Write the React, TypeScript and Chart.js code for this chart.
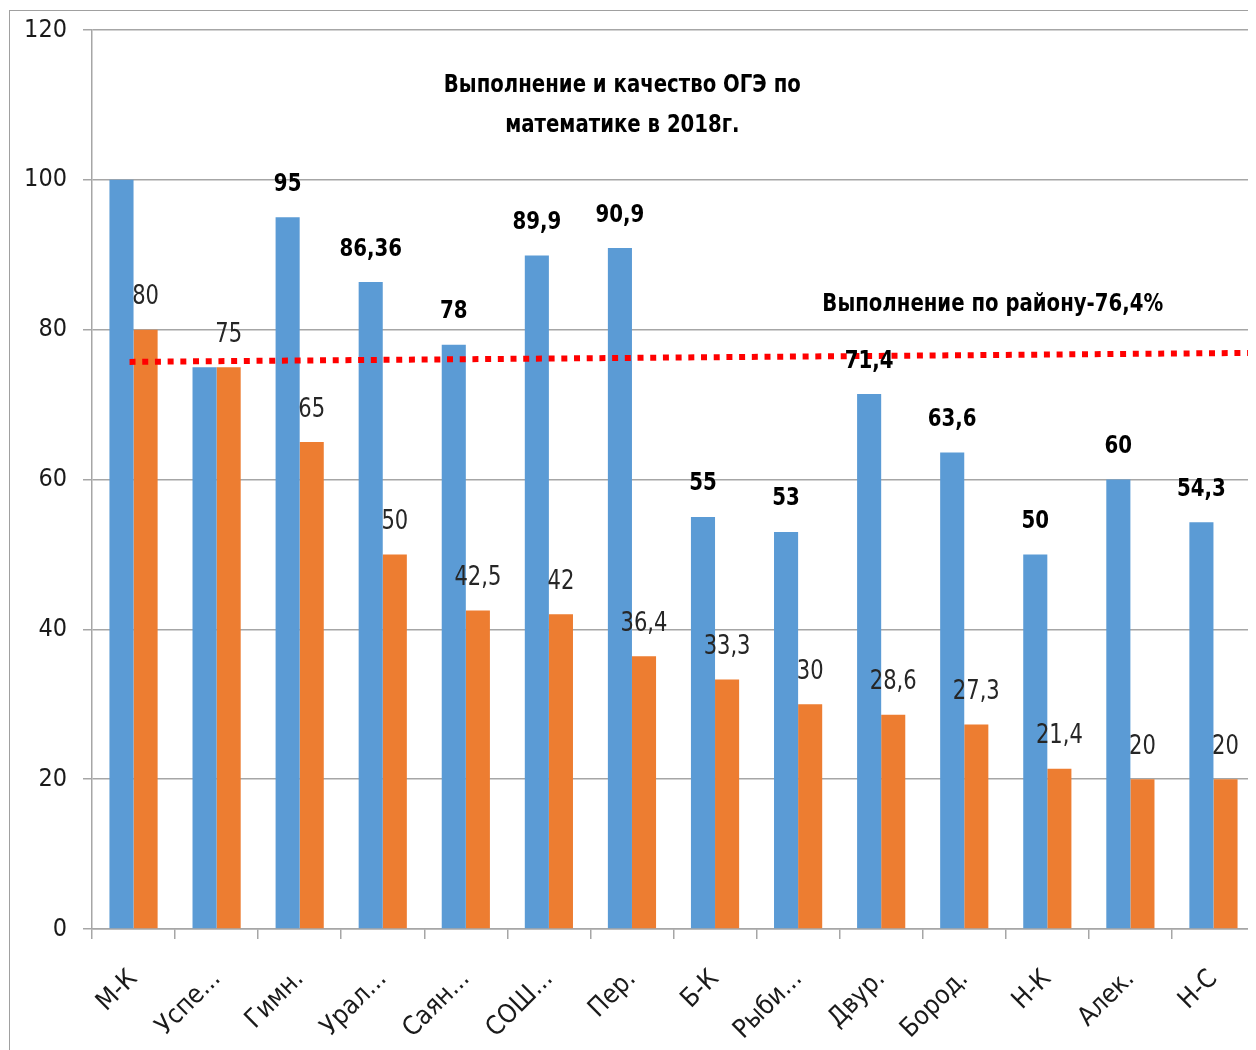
import React, { useEffect, useRef } from "react";
import { Chart, registerables } from "chart.js";

Chart.register(...registerables);

const categories = ["М-К", "Успе...", "Гимн.", "Урал...", "Саян...", "СОШ...", "Пер.", "Б-К", "Рыби...", "Двур.", "Бород.", "Н-К", "Алек.", "Н-С"];
const performance = [100, 75, 95, 86.36, 78, 89.9, 90.9, 55, 53, 71.4, 63.6, 50, 60, 54.3];
const quality = [80, 75, 65, 50, 42.5, 42, 36.4, 33.3, 30, 28.6, 27.3, 21.4, 20, 20];
const performanceLabels = ["", "", "95", "86,36", "78", "89,9", "90,9", "55", "53", "71,4", "63,6", "50", "60", "54,3"];
const qualityLabels = ["80", "75", "65", "50", "42,5", "42", "36,4", "33,3", "30", "28,6", "27,3", "21,4", "20", "20"];
const yTicks = [0, 20, 40, 60, 80, 100, 120];
const districtLineStart = 75.7;
const districtLineEnd = 76.9;
const titleLines = ["Выполнение и качество ОГЭ по", "математике в 2018г."];
const districtText = "Выполнение по району-76,4%";

const FONT = "'DejaVu Sans Condensed', 'Liberation Sans', sans-serif";

function drawText(ctx: any, text: string, x: number, y: number, scaleX: number, align: string) {
  ctx.save();
  ctx.translate(x, y);
  ctx.scale(scaleX, 1);
  ctx.textAlign = align;
  ctx.fillText(text, 0, 0);
  ctx.restore();
}

const overlayPlugin = {
  id: "overlay",
  afterDatasetsDraw(chart: any) {
    const { ctx, chartArea, scales } = chart;
    const x = scales.x;
    const y = scales.y;
    ctx.save();
    // district line
    ctx.strokeStyle = "#FF0000";
    ctx.lineWidth = 6;
    ctx.setLineDash([6, 6.7]);
    ctx.beginPath();
    ctx.moveTo(x.getPixelForValue(0) - 4, y.getPixelForValue(districtLineStart));
    ctx.lineTo(chartArea.right, y.getPixelForValue(districtLineEnd));
    ctx.stroke();
    ctx.setLineDash([]);

    // data labels
    ctx.textBaseline = "middle";
    const m0 = chart.getDatasetMeta(0);
    const m1 = chart.getDatasetMeta(1);
    ctx.fillStyle = "#000";
    ctx.font = `bold 25px ${FONT}`;
    m0.data.forEach((bar: any, i: number) => {
      if (performanceLabels[i]) drawText(ctx, performanceLabels[i], bar.x, bar.y - 33, 0.88, "center");
    });
    ctx.fillStyle = "#262626";
    ctx.font = `26px ${FONT}`;
    m1.data.forEach((bar: any, i: number) => {
      if (qualityLabels[i]) drawText(ctx, qualityLabels[i], bar.x, bar.y - 32, 0.9, "center");
    });

    // title text
    ctx.fillStyle = "#000";
    ctx.font = `bold 25px ${FONT}`;
    const cx = chartArea.left + chartArea.width * 0.456;
    drawText(ctx, titleLines[0], cx, chartArea.top + 55, 0.876, "center");
    drawText(ctx, titleLines[1], cx, chartArea.top + 95, 0.876, "center");
    drawText(ctx, districtText, chartArea.left + chartArea.width * 0.628, y.getPixelForValue(83.3), 0.876, "left");
    ctx.restore();
  },
};

function ChartView() {
  const ref = useRef<HTMLCanvasElement>(null);
  useEffect(() => {
    if (!ref.current) return;
    const chart = new Chart(ref.current, {
      type: "bar",
      data: {
        labels: categories,
        datasets: [
          { label: "Выполнение", data: performance, backgroundColor: "#5B9BD5" },
          { label: "Качество", data: quality, backgroundColor: "#ED7D31" },
        ],
      },
      options: {
        animation: false,
        responsive: false,
        maintainAspectRatio: false,
        devicePixelRatio: 1,
        layout: { padding: { left: 0, right: 2, top: 19, bottom: 0 } },
        datasets: { bar: { categoryPercentage: 0.58, barPercentage: 1 } },
        plugins: {
          legend: { display: false },
          tooltip: { enabled: false },
          title: { display: false },
        },
        scales: {
          x: {
            offset: true,
            grid: { display: true, drawOnChartArea: false, offset: true, color: "#A6A6A6", tickLength: 10, lineWidth: 1.5 },
            border: { color: "#A6A6A6", width: 1.5 },
            ticks: {
              font: { family: FONT, size: 26 },
              color: "#1a1a1a",
              minRotation: 45,
              maxRotation: 45,
              autoSkip: false,
              padding: 25,
            },
            afterFit(axis: any) {
              axis.height = 121;
              axis.paddingLeft = 0;
              axis.paddingRight = 0;
            },
          },
          y: {
            min: 0,
            max: 120,
            afterBuildTicks(axis: any) {
              axis.ticks = yTicks.map((v) => ({ value: v }));
            },
            grid: { color: "#A6A6A6", tickLength: 9, lineWidth: 1.5 },
            border: { color: "#A6A6A6", width: 1.5 },
            ticks: {
              font: { family: FONT, size: 25 },
              color: "#1a1a1a",
              padding: 16,
            },
            afterFit(axis: any) {
              axis.width = 82;
              axis.paddingTop = 0;
              axis.paddingBottom = 0;
            },
          },
        },
      },
      plugins: [overlayPlugin],
    });
    return () => chart.destroy();
  }, []);
  return <canvas ref={ref} width={1247} height={1039} style={{ display: "block" }} />;
}

export default function App() {
  useEffect(() => {
    document.body.style.overflow = "hidden";
  }, []);
  return (
    <div
      style={{
        marginTop: 2,
        marginLeft: 1,
        width: 1247,
        height: 1040,
        borderLeft: "1px solid #A0A0A0",
        borderTop: "1px solid #A0A0A0",
        background: "#fff",
      }}
    >
      <ChartView />
    </div>
  );
}
